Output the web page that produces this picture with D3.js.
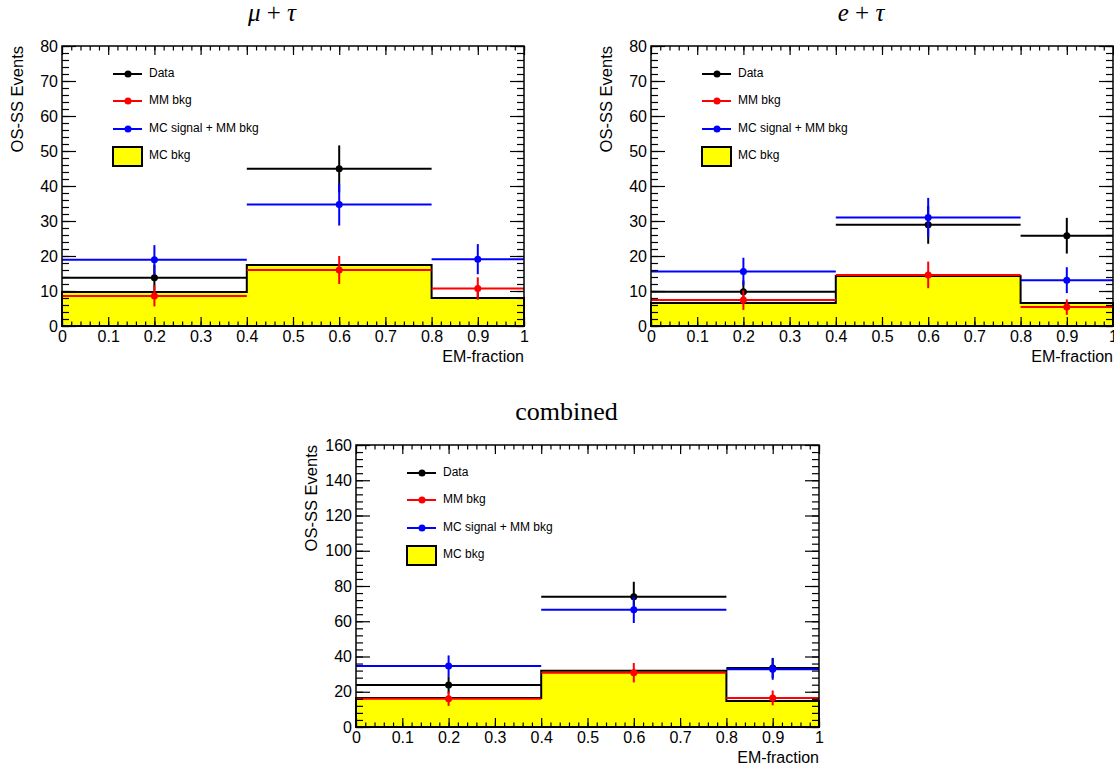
<!DOCTYPE html>
<html>
<head>
<meta charset="utf-8">
<script src="https://cdn.jsdelivr.net/npm/d3@7"></script>
<style>
  body { margin: 0; background: #fff; }
  svg { display: block; font-family: "Liberation Sans", Arial, sans-serif; }
</style>
</head>
<body>
<div id="chart"></div>
<script>
(function() {

// EM-fraction binning
const binEdges = [0, 0.4, 0.8, 1.0];
const binCentres = [0.2, 0.6, 0.9];
const xTickValues = [0, 0.1, 0.2, 0.3, 0.4, 0.5, 0.6, 0.7, 0.8, 0.9, 1];
const xTickLabels = ["0", "0.1", "0.2", "0.3", "0.4", "0.5", "0.6", "0.7", "0.8", "0.9", "1"];

const legendLabels = ["Data", "MM bkg", "MC signal + MM bkg", "MC bkg"];

// mu + tau
const muTauData = [13.8, 44.9, 7.0];
const muTauDataErr = [3.7, 6.7, 4.5];
const muTauMM = [8.6, 16.0, 10.7];
const muTauMMErr = [3.0, 4.0, 3.2];
const muTauSig = [18.9, 34.7, 19.1];
const muTauSigErr = [4.2, 6.0, 4.3];
const muTauMCbkg = [9.7, 17.4, 8.0];

// e + tau
const eTauData = [9.8, 28.9, 25.8];
const eTauDataErr = [3.2, 5.4, 5.1];
const eTauMM = [7.4, 14.6, 5.4];
const eTauMMErr = [2.8, 3.8, 2.2];
const eTauSig = [15.6, 31.0, 13.1];
const eTauSigErr = [3.9, 5.6, 3.7];
const eTauMCbkg = [6.6, 14.3, 6.6];

// combined
const combData = [23.8, 73.9, 33.5];
const combDataErr = [4.9, 8.5, 5.7];
const combMM = [16.0, 30.8, 16.5];
const combMMErr = [4.0, 5.5, 4.2];
const combSig = [34.6, 66.5, 32.8];
const combSigErr = [6.0, 7.5, 6.0];
const combMCbkg = [16.5, 31.9, 14.8];

const width = 1114, height = 769;

let svg = d3.select("#chart")
    .append("svg")
    .attr("width", width)
    .attr("height", height);

const panels = [
    { title: "mutau", left: 62, top: 46, w: 462, h: 280, yMax: 80, yStep: 10,
      data: muTauData, dataErr: muTauDataErr, mm: muTauMM, mmErr: muTauMMErr,
      sig: muTauSig, sigErr: muTauSigErr, mc: muTauMCbkg },
    { title: "etau", left: 651, top: 46, w: 462, h: 280, yMax: 80, yStep: 10,
      data: eTauData, dataErr: eTauDataErr, mm: eTauMM, mmErr: eTauMMErr,
      sig: eTauSig, sigErr: eTauSigErr, mc: eTauMCbkg },
    { title: "combined", left: 356, top: 445, w: 463, h: 282, yMax: 160, yStep: 20,
      data: combData, dataErr: combDataErr, mm: combMM, mmErr: combMMErr,
      sig: combSig, sigErr: combSigErr, mc: combMCbkg }
];

for (let p of panels) {
    drawPanel(p);
}

function drawPanel(p) {
    let g = svg.append("g");

    let x = d3.scaleLinear()
        .domain([0, 1])
        .range([p.left, p.left + p.w]);

    let y = d3.scaleLinear()
        .domain([0, p.yMax])
        .range([p.top + p.h, p.top]);

    const yMajor = d3.range(0, p.yMax + 0.001, p.yStep);
    const yMinor = d3.range(0, p.yMax + 0.001, p.yStep / 5);
    const xMinor = d3.range(0, 1.0001, 0.02);

    // data first (bin 3 of mu+tau hides under the MC fill, like the original)
    drawPoints(g, x, y, p.data, p.dataErr, "black");

    // MC bkg histogram
    let pts = [[binEdges[0], 0]];
    p.mc.forEach((v, i) => {
        pts.push([binEdges[i], v]);
        pts.push([binEdges[i + 1], v]);
    });
    pts.push([binEdges[binEdges.length - 1], 0]);

    g.append("path")
        .attr("d", d3.line().x(d => x(d[0])).y(d => y(d[1]))(pts) + "Z")
        .attr("fill", "#ffff00")
        .attr("stroke", "#000")
        .attr("stroke-width", 2);

    drawPoints(g, x, y, p.mm, p.mmErr, "#ff0000");
    drawPoints(g, x, y, p.sig, p.sigErr, "#0000ff");

    // axes: ticks point inward on all four sides
    const axStyle = sel => {
        sel.select(".domain").remove();
        sel.selectAll("line").attr("stroke", "#000").attr("stroke-width", 1.2);
        sel.selectAll("text").attr("font-size", 16).attr("fill", "#000")
            .style("font-family", "'Liberation Sans', Arial, sans-serif");
    };

    g.append("g")
        .attr("transform", `translate(0,${p.top + p.h})`)
        .call(d3.axisBottom(x).tickValues(xTickValues)
            .tickFormat((d, i) => xTickLabels[i]).tickSize(-9).tickPadding(5))
        .call(axStyle);
    g.append("g")
        .attr("transform", `translate(0,${p.top + p.h})`)
        .call(d3.axisBottom(x).tickValues(xMinor).tickFormat("").tickSize(-4.5))
        .call(axStyle);
    g.append("g")
        .attr("transform", `translate(0,${p.top})`)
        .call(d3.axisTop(x).tickValues(xTickValues).tickFormat("").tickSize(-9))
        .call(axStyle);
    g.append("g")
        .attr("transform", `translate(0,${p.top})`)
        .call(d3.axisTop(x).tickValues(xMinor).tickFormat("").tickSize(-4.5))
        .call(axStyle);

    g.append("g")
        .attr("transform", `translate(${p.left},0)`)
        .call(d3.axisLeft(y).tickValues(yMajor).tickFormat(d3.format("d")).tickSize(-14).tickPadding(4))
        .call(axStyle);
    g.append("g")
        .attr("transform", `translate(${p.left},0)`)
        .call(d3.axisLeft(y).tickValues(yMinor).tickFormat("").tickSize(-7))
        .call(axStyle);
    g.append("g")
        .attr("transform", `translate(${p.left + p.w},0)`)
        .call(d3.axisRight(y).tickValues(yMajor).tickFormat("").tickSize(-14))
        .call(axStyle);
    g.append("g")
        .attr("transform", `translate(${p.left + p.w},0)`)
        .call(d3.axisRight(y).tickValues(yMinor).tickFormat("").tickSize(-7))
        .call(axStyle);

    // frame
    g.append("rect")
        .attr("x", p.left)
        .attr("y", p.top)
        .attr("width", p.w)
        .attr("height", p.h)
        .attr("fill", "none")
        .attr("stroke", "#000")
        .attr("stroke-width", 1.5);

    // axis titles
    g.append("text")
        .attr("x", p.left + p.w)
        .attr("y", p.top + p.h + 36)
        .attr("text-anchor", "end")
        .attr("font-size", 16)
        .text("EM-fraction");

    g.append("text")
        .attr("transform", `translate(${p.left - 39},${p.top}) rotate(-90)`)
        .attr("text-anchor", "end")
        .attr("font-size", 16.5)
        .text("OS-SS Events");

    // panel title
    let t = g.append("text")
        .attr("x", p.left + p.w / 2 - 21)
        .attr("text-anchor", "middle")
        .style("font-family", "'Liberation Serif', 'Times New Roman', serif");
    if (p.title === "mutau") {
        t.attr("y", p.top - 25).attr("font-size", 25);
        t.append("tspan").attr("font-style", "italic").text("μ");
        t.append("tspan").text(" + ");
        t.append("tspan").attr("font-style", "italic").text("τ");
    } else if (p.title === "etau") {
        t.attr("y", p.top - 25).attr("font-size", 25);
        t.append("tspan").attr("font-style", "italic").text("e");
        t.append("tspan").text(" + ");
        t.append("tspan").attr("font-style", "italic").text("τ");
    } else {
        t.attr("y", p.top - 25).attr("font-size", 26).text("combined");
    }

    // legend
    const lx = p.left + 51, ly = p.top;
    const legY = [28, 55, 83, 110];
    const legColors = ["black", "#ff0000", "#0000ff"];
    legColors.forEach((c, i) => {
        g.append("line")
            .attr("x1", lx).attr("x2", lx + 29)
            .attr("y1", ly + legY[i]).attr("y2", ly + legY[i])
            .attr("stroke", c).attr("stroke-width", 2);
        g.append("circle")
            .attr("cx", lx + 15).attr("cy", ly + legY[i]).attr("r", 3.5)
            .attr("fill", c);
    });
    g.append("rect")
        .attr("x", lx).attr("y", ly + legY[3] - 9)
        .attr("width", 29).attr("height", 19)
        .attr("fill", "#ffff00").attr("stroke", "#000").attr("stroke-width", 2);

    g.selectAll(".leg-text")
        .data(legendLabels)
        .join("text")
        .attr("class", "leg-text")
        .attr("x", lx + 36)
        .attr("y", (d, i) => ly + legY[i])
        .attr("dominant-baseline", "middle")
        .attr("font-size", 12)
        .text(d => d);
}

function drawPoints(g, x, y, vals, errs, color) {
    let s = g.append("g");
    vals.forEach((v, i) => {
        s.append("line") // bin width
            .attr("x1", x(binEdges[i])).attr("x2", x(binEdges[i + 1]))
            .attr("y1", y(v)).attr("y2", y(v))
            .attr("stroke", color).attr("stroke-width", 2);
        s.append("line") // error bar
            .attr("x1", x(binCentres[i])).attr("x2", x(binCentres[i]))
            .attr("y1", y(v - errs[i])).attr("y2", y(v + errs[i]))
            .attr("stroke", color).attr("stroke-width", 2);
        s.append("circle")
            .attr("cx", x(binCentres[i])).attr("cy", y(v)).attr("r", 3.5)
            .attr("fill", color);
    });
}

})();
</script>
</body>
</html>
